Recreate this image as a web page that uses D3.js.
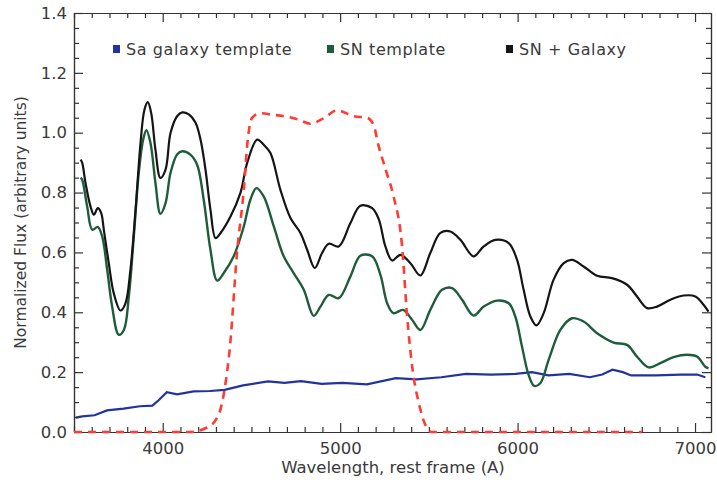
<!DOCTYPE html>
<html lang="en">
<head>
  <meta charset="utf-8">
  <title>SN + Galaxy spectrum</title>
  <script src="https://cdn.jsdelivr.net/npm/d3@7"></script>
  <style>
    body { margin: 0; background: white; }
    text { font-family: "DejaVu Sans", sans-serif; fill: #3a3a3a; }
    .axis path, .axis line { stroke: #333; stroke-width: 1.2; }
  </style>
</head>
<body>
<svg id="chart" width="717" height="483"></svg>
<script>
// Sa galaxy template
var galaxyWave = [3510,3547,3616,3686,3779,3872,3942,3977,4023,4081,4174,4267,4349,4453,4593,4686,4779,4895,5012,5151,5314,5430,5570,5709,5849,5988,6081,6174,6291,6407,6477,6535,6593,6640,6779,6919,7012,7058];
var galaxyFlux = [0.048,0.052,0.056,0.072,0.078,0.086,0.088,0.106,0.133,0.126,0.136,0.137,0.141,0.156,0.169,0.164,0.170,0.161,0.164,0.159,0.180,0.176,0.183,0.194,0.192,0.194,0.200,0.189,0.194,0.183,0.192,0.208,0.200,0.189,0.189,0.192,0.192,0.183];

// SN template
var snWave = [3537,3546,3574,3603,3634,3659,3687,3715,3752,3781,3809,3837,3865,3890,3908,3931,3959,3987,4016,4044,4081,4110,4156,4194,4231,4269,4307,4344,4400,4457,4494,4528,4569,4626,4682,4738,4795,4851,4889,4936,4992,5058,5114,5180,5227,5265,5300,5355,5405,5452,5508,5574,5631,5687,5752,5809,5884,5950,5987,6025,6062,6094,6128,6175,6241,6307,6372,6448,6541,6617,6673,6738,6804,6879,6955,7011,7058,7076];
var snFlux = [0.850,0.843,0.754,0.676,0.685,0.653,0.542,0.419,0.325,0.341,0.453,0.653,0.866,0.977,1.008,0.966,0.832,0.729,0.765,0.866,0.927,0.938,0.927,0.893,0.776,0.609,0.506,0.531,0.587,0.687,0.776,0.815,0.787,0.687,0.587,0.531,0.475,0.388,0.419,0.458,0.447,0.520,0.589,0.587,0.525,0.430,0.397,0.408,0.375,0.341,0.408,0.475,0.481,0.442,0.389,0.419,0.439,0.430,0.386,0.285,0.191,0.154,0.163,0.241,0.341,0.380,0.369,0.330,0.299,0.291,0.252,0.216,0.230,0.250,0.258,0.252,0.218,0.213];

// SN + Galaxy
var sumWave = [3537,3546,3565,3593,3612,3634,3653,3668,3696,3724,3762,3790,3818,3847,3875,3897,3916,3935,3959,3987,4016,4044,4081,4110,4147,4185,4213,4241,4269,4298,4326,4382,4438,4476,4532,4569,4607,4663,4720,4776,4814,4857,4898,4936,4992,5058,5114,5180,5217,5255,5293,5340,5396,5452,5508,5565,5621,5678,5752,5809,5875,5950,5997,6034,6072,6106,6147,6203,6260,6307,6372,6448,6532,6617,6673,6730,6786,6861,6936,7002,7048,7076];
var sumFlux = [0.910,0.900,0.832,0.754,0.726,0.748,0.732,0.676,0.564,0.464,0.406,0.430,0.542,0.743,0.966,1.077,1.102,1.066,0.943,0.849,0.877,0.999,1.055,1.068,1.061,1.033,0.977,0.877,0.743,0.648,0.665,0.720,0.799,0.899,0.977,0.960,0.932,0.810,0.715,0.665,0.609,0.548,0.598,0.629,0.620,0.698,0.756,0.748,0.712,0.620,0.573,0.592,0.564,0.523,0.598,0.665,0.670,0.642,0.587,0.620,0.642,0.631,0.575,0.475,0.386,0.356,0.397,0.509,0.564,0.575,0.553,0.522,0.514,0.492,0.453,0.414,0.419,0.442,0.456,0.453,0.425,0.402];

// filter transmission (dashed)
var filterWave = [3500,4150,4250,4314,4349,4378,4419,4457,4478,4504,4551,4620,4682,4760,4832,4907,4983,5076,5152,5189,5215,5260,5300,5349,5377,5410,5442,5477,5515,6700];
var filterFlux = [0,0,0.015,0.056,0.144,0.28,0.60,0.81,0.97,1.05,1.065,1.06,1.055,1.045,1.03,1.048,1.075,1.055,1.05,1.025,0.96,0.87,0.79,0.62,0.39,0.20,0.10,0.028,0,0];

var xMajor = [4000, 5000, 6000, 7000];
var yMajor = [0.0, 0.2, 0.4, 0.6, 0.8, 1.0, 1.2, 1.4];

var legendNames = ["Sa galaxy template", "SN template", "SN + Galaxy"];
var legendColors = ["#2233a0", "#1f5c3c", "#151515"];

var svg = d3.select("#chart"),
    pLeft = 74, pRight = 711, pTop = 13, pBot = 432;

var x = d3.scaleLinear().domain([3500, 7090]).range([pLeft, pRight]);
var y = d3.scaleLinear().domain([0, 1.4]).range([pBot, pTop]);

var xMinor = d3.range(3500, 7090, 100).filter(function(d) { return d % 1000 != 0; });
var yMinor = d3.range(0, 1.41, 0.05).filter(function(d) { return Math.abs(d * 5 - Math.round(d * 5)) > 0.01; });

// clip a little below the axis so the zero-level dashes show on it
svg.append("defs").append("clipPath").attr("id", "clip")
  .append("rect").attr("x", pLeft).attr("y", pTop).attr("width", pRight - pLeft).attr("height", pBot - pTop + 2);

function zip(w, f) { return w.map(function(d, i) { return [d, f[i]]; }); }

var plot = svg.append("g").attr("clip-path", "url(#clip)");

var smooth = d3.line().x(function(d) { return x(d[0]); }).y(function(d) { return y(d[1]); }).curve(d3.curveCatmullRom.alpha(0.5));
var straight = d3.line().x(function(d) { return x(d[0]); }).y(function(d) { return y(d[1]); });
var mono = d3.line().x(function(d) { return x(d[0]); }).y(function(d) { return y(d[1]); }).curve(d3.curveMonotoneX);

plot.append("path").datum(zip(galaxyWave, galaxyFlux))
  .attr("d", straight).attr("fill", "none").attr("stroke", legendColors[0]).attr("stroke-width", 2.2);
plot.append("path").datum(zip(snWave, snFlux))
  .attr("d", smooth).attr("fill", "none").attr("stroke", legendColors[1]).attr("stroke-width", 2.4);
plot.append("path").datum(zip(sumWave, sumFlux))
  .attr("d", smooth).attr("fill", "none").attr("stroke", legendColors[2]).attr("stroke-width", 2.2);

// axes: ticks point inward on all four sides
function addAxis(axis, tx, ty, vals, size, fmt) {
  var g = svg.append("g").attr("class", "axis")
    .attr("transform", "translate(" + tx + "," + ty + ")")
    .call(axis.tickValues(vals).tickSizeInner(-size).tickSizeOuter(0).tickFormat(fmt));
  return g;
}
var noLabel = function() { return ""; };

var xb = addAxis(d3.axisBottom(x), 0, pBot, xMajor, 9, d3.format("d"));
xb.selectAll("text").attr("y", 10).style("font-size", "16.5px");
addAxis(d3.axisBottom(x), 0, pBot, xMinor, 5, noLabel);
addAxis(d3.axisTop(x), 0, pTop, xMajor, 9, noLabel);
addAxis(d3.axisTop(x), 0, pTop, xMinor, 5, noLabel);

var yl = addAxis(d3.axisLeft(y), pLeft, 0, yMajor, 9, d3.format(".1f"));
yl.selectAll("text").attr("x", -7).style("font-size", "16.5px");
addAxis(d3.axisLeft(y), pLeft, 0, yMinor, 5, noLabel);
addAxis(d3.axisRight(y), pRight, 0, yMajor, 9, noLabel);
addAxis(d3.axisRight(y), pRight, 0, yMinor, 5, noLabel);

svg.selectAll(".axis text").attr("fill", "#3a3a3a");

// filter curve sits on top of the axis line
svg.append("g").attr("clip-path", "url(#clip)")
  .append("path").datum(zip(filterWave, filterFlux))
  .attr("d", mono).attr("fill", "none").attr("stroke", "#ff3b33").attr("stroke-width", 2.6)
  .attr("stroke-dasharray", "8,6");

svg.append("text")
  .attr("x", 393).attr("y", 473)
  .attr("text-anchor", "middle").style("font-size", "16.5px")
  .text("Wavelength, rest frame (A)");

svg.append("text")
  .attr("transform", "translate(26," + (pBot + pTop) / 2 + ") rotate(-90)")
  .attr("text-anchor", "middle").style("font-size", "15.5px")
  .text("Normalized Flux (arbitrary units)");

// legend
var legendX = [113, 327, 506];
var lg = svg.selectAll(".leg").data(legendNames).enter().append("g")
  .attr("transform", function(d, i) { return "translate(" + legendX[i] + ",49)"; });
lg.append("rect").attr("x", 0).attr("y", -4).attr("width", 7).attr("height", 8)
  .attr("fill", function(d, i) { return legendColors[i]; });
lg.append("text").attr("x", 13).attr("y", 5.5).style("font-size", "16px").style("letter-spacing", "0.6px")
  .text(function(d) { return d; });
</script>
</body>
</html>
